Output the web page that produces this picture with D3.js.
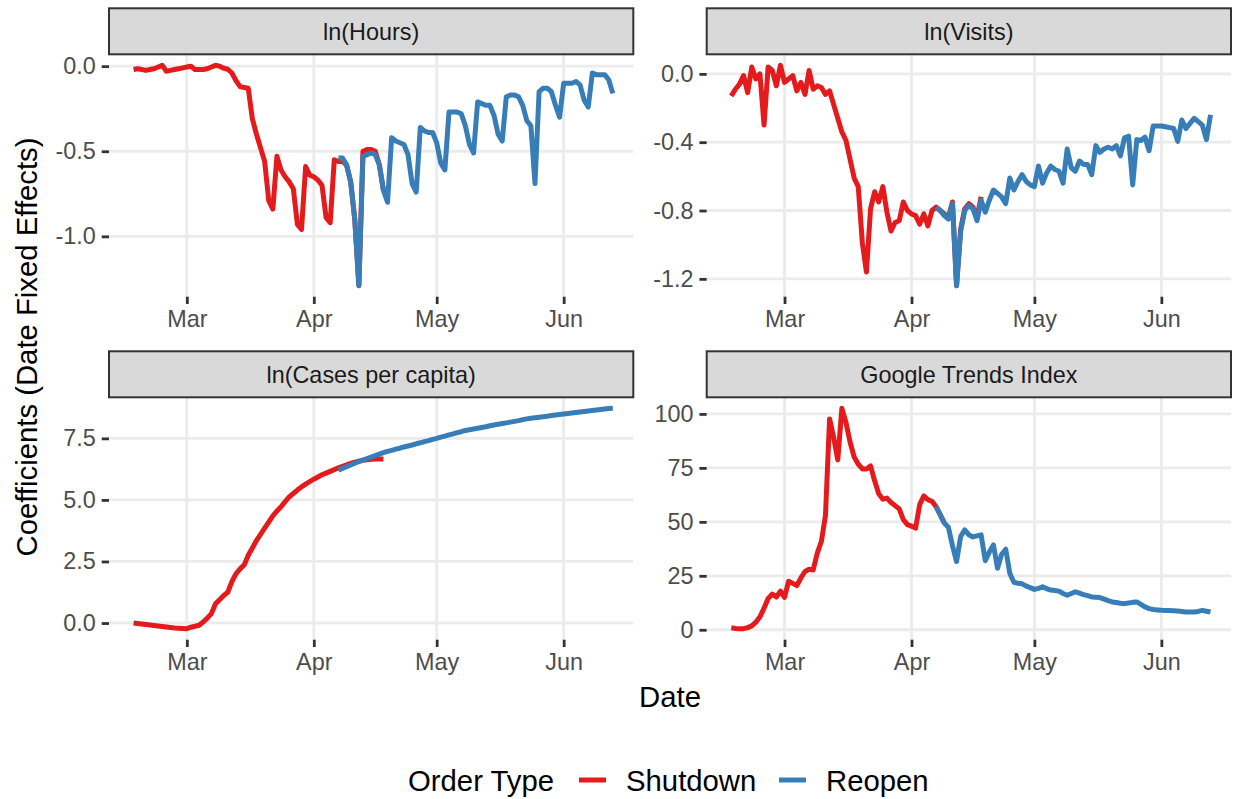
<!DOCTYPE html>
<html lang="en">

<head>
  <meta charset="UTF-8" />
  <title>Date Fixed Effects</title>
  <script src="https://cdn.jsdelivr.net/npm/d3@7"></script>
  <style>
    body {
      margin: 0;
      background: #fff;
    }

    text {
      font-family: "Liberation Sans", Arial, Helvetica, sans-serif;
    }
  </style>
</head>

<body>
  <div id="chart"></div>

  <script>
    // first day of both series (day index 0)
    var startDay = new Date(2020, 1, 17);
    var shutdownStart = 0;
    var reopenStart = 50;

    var panelTitles = ["ln(Hours)", "ln(Visits)", "ln(Cases per capita)", "Google Trends Index"];
    var orderTypes = ["Shutdown", "Reopen"];

    var monthTicks = [new Date(2020, 2, 1), new Date(2020, 3, 1), new Date(2020, 4, 1), new Date(2020, 5, 1)];
    var monthLabels = ["Mar", "Apr", "May", "Jun"];

    var hoursTicks = [0, -0.5, -1.0];
    var hoursTickLabels = ["0.0", "-0.5", "-1.0"];
    var visitsTicks = [0, -0.4, -0.8, -1.2];
    var visitsTickLabels = ["0.0", "-0.4", "-0.8", "-1.2"];
    var casesTicks = [0, 2.5, 5, 7.5];
    var casesTickLabels = ["0.0", "2.5", "5.0", "7.5"];
    var trendsTicks = [0, 25, 50, 75, 100];
    var trendsTickLabels = ["0", "25", "50", "75", "100"];

    // daily values
    var hoursShutdown = [-0.02, -0.015, -0.02, -0.025, -0.02, -0.015, -0.005, 0.005, -0.03, -0.025,
      -0.02, -0.015, -0.01, -0.005, 0.0, -0.02, -0.02, -0.02, -0.015, -0.005,
      0.005, 0.0, -0.012, -0.018, -0.04, -0.085, -0.12, -0.125, -0.13, -0.31,
      -0.40, -0.48, -0.56, -0.79, -0.84, -0.53, -0.61, -0.65, -0.68, -0.72,
      -0.93, -0.96, -0.59, -0.64, -0.65, -0.67, -0.70, -0.89, -0.92, -0.55,
      -0.56, -0.56, -0.58, -0.68, -0.90, -1.29, -0.50, -0.49, -0.49, -0.50,
      -0.58, -0.73];
    var hoursReopen = [-0.54, -0.54, -0.58, -0.68, -0.90, -1.29, -0.53, -0.52, -0.51, -0.52,
      -0.58, -0.73, -0.80, -0.42, -0.44, -0.45, -0.46, -0.52, -0.69, -0.74,
      -0.36, -0.38, -0.39, -0.39, -0.45, -0.57, -0.61, -0.27, -0.27, -0.27,
      -0.28, -0.35, -0.46, -0.51, -0.21, -0.22, -0.23, -0.23, -0.29, -0.40,
      -0.44, -0.18, -0.17, -0.17, -0.18, -0.23, -0.32, -0.35, -0.69, -0.15,
      -0.13, -0.13, -0.15, -0.23, -0.30, -0.10, -0.10, -0.10, -0.09, -0.11,
      -0.20, -0.24, -0.04, -0.05, -0.05, -0.05, -0.08, -0.16];

    var visitsShutdown = [-0.13, -0.09, -0.06, -0.01, -0.11, 0.04, -0.03, 0.0, -0.30, 0.04,
      0.02, -0.07, 0.05, -0.05, -0.03, -0.01, -0.10, -0.05, -0.12, 0.02,
      -0.09, -0.07, -0.08, -0.12, -0.10, -0.18, -0.26, -0.34, -0.39, -0.50,
      -0.61, -0.66, -0.99, -1.16, -0.79, -0.69, -0.75, -0.66, -0.81, -0.92,
      -0.87, -0.86, -0.75, -0.80, -0.82, -0.83, -0.88, -0.82, -0.89, -0.80,
      -0.78, -0.80, -0.82, -0.84, -0.75, -1.24, -0.91, -0.79, -0.76, -0.78,
      -0.84, -0.72];
    var visitsReopen = [-0.78, -0.80, -0.83, -0.85, -0.76, -1.24, -0.92, -0.80, -0.77, -0.79,
      -0.86, -0.74, -0.81, -0.74, -0.68, -0.70, -0.72, -0.76, -0.61, -0.68,
      -0.63, -0.59, -0.63, -0.65, -0.66, -0.54, -0.64, -0.58, -0.54, -0.56,
      -0.57, -0.64, -0.44, -0.55, -0.57, -0.51, -0.53, -0.53, -0.59, -0.42,
      -0.46, -0.44, -0.43, -0.44, -0.42, -0.48, -0.375, -0.365, -0.65, -0.385,
      -0.39, -0.37, -0.45, -0.305, -0.305, -0.305, -0.31, -0.315, -0.32, -0.395,
      -0.27, -0.32, -0.29, -0.26, -0.28, -0.30, -0.385, -0.24];

    var casesShutdown = [0.0, -0.02, -0.04, -0.06, -0.08, -0.10, -0.12, -0.14, -0.16, -0.18,
      -0.20, -0.21, -0.22, -0.23, -0.17, -0.13, -0.09, 0.05, 0.20, 0.38,
      0.78, 0.95, 1.12, 1.25, 1.68, 2.0, 2.2, 2.36, 2.75, 3.05,
      3.35, 3.6, 3.85, 4.1, 4.35, 4.55, 4.72, 4.93, 5.12, 5.26,
      5.40, 5.53, 5.64, 5.74, 5.84, 5.93, 6.02, 6.09, 6.16, 6.23,
      6.30, 6.36, 6.42, 6.48, 6.53, 6.57, 6.61, 6.63, 6.65, 6.66,
      6.66, 6.66];
    var casesReopen = [6.21, 6.28, 6.35, 6.42, 6.49, 6.56, 6.62, 6.68, 6.74, 6.80,
      6.86, 6.92, 6.97, 7.01, 7.06, 7.10, 7.15, 7.19, 7.23, 7.28,
      7.32, 7.37, 7.41, 7.46, 7.50, 7.55, 7.59, 7.64, 7.68, 7.73,
      7.77, 7.82, 7.85, 7.88, 7.91, 7.94, 7.97, 8.01, 8.04, 8.07,
      8.10, 8.13, 8.16, 8.19, 8.22, 8.26, 8.29, 8.32, 8.34, 8.36,
      8.38, 8.40, 8.43, 8.45, 8.47, 8.49, 8.51, 8.53, 8.55, 8.57,
      8.59, 8.61, 8.63, 8.65, 8.67, 8.69, 8.71, 8.72];

    var trendsShutdown = [0.9, 0.6, 0.5, 0.5, 1.0, 1.8, 3.5, 6.0, 10.0, 14.5,
      16.5, 15.2, 17.9, 15.0, 22.5, 21.5, 20.5, 24.0, 27.0, 28.0,
      27.7, 35.5, 41.0, 53.0, 97.7, 89.0, 78.7, 102.6, 96.0, 87.0,
      80.0, 76.7, 74.5, 74.5, 75.9, 69.0, 63.0, 60.5, 61.0, 59.0,
      57.5, 56.0, 51.0, 48.7, 48.0, 47.1, 58.0, 62.0, 60.3, 59.5,
      57.0, 53.3, 49.5];
    var trendsReopen = [57.2, 53.3, 49.5, 47.5, 39.0, 31.6, 43.2, 46.3, 44.0, 43.0,
      43.5, 44.0, 32.0, 36.0, 39.3, 28.5, 35.0, 37.3, 26.1, 22.0,
      21.5, 21.3, 20.2, 19.5, 18.7, 19.2, 19.9, 19.0, 18.4, 18.2,
      17.9, 16.8, 16.0, 16.8, 17.6, 17.0, 16.3, 15.8, 15.2, 15.1,
      14.9, 14.2, 13.5, 12.9, 12.6, 12.3, 12.1, 12.4, 12.7, 12.9,
      11.8, 10.6, 9.8, 9.4, 9.2, 9.0, 8.9, 8.9, 8.8, 8.7,
      8.5, 8.2, 8.2, 8.2, 8.5, 9.0, 8.6, 8.2];

    var w = 1236;
    var h = 799;
    var colors = ["#E41A1C", "#377EB8"];
    var smallFont = 23.4;
    var bigFont = 29.3;
    var lineW = 5;

    var panelW = 524.3;
    var panelH = 242.4;
    var stripH = 46;
    var colX = [109, 706.7];
    var rowY = [54.3, 397.3];

    var panels = [
      { shutdown: hoursShutdown, reopen: hoursReopen, ticks: hoursTicks, labels: hoursTickLabels },
      { shutdown: visitsShutdown, reopen: visitsReopen, ticks: visitsTicks, labels: visitsTickLabels },
      { shutdown: casesShutdown, reopen: casesReopen, ticks: casesTicks, labels: casesTickLabels },
      { shutdown: trendsShutdown, reopen: trendsReopen, ticks: trendsTicks, labels: trendsTickLabels }
    ];

    function dayDate(i) {
      return new Date(startDay.getFullYear(), startDay.getMonth(), startDay.getDate() + i);
    }

    function toPoints(values, start) {
      return values.map(function(v, i) {
        return { date: dayDate(start + i), value: v };
      });
    }

    var svg = d3.select("#chart")
      .append("svg")
      .attr("width", w)
      .attr("height", h);

    svg.append("rect")
      .attr("width", w)
      .attr("height", h)
      .attr("fill", "#fff");

    // date range of the data, padded 5% on each side like ggplot
    var lastDay = shutdownStart;
    panels.forEach(function(p) {
      lastDay = Math.max(lastDay, reopenStart + p.reopen.length - 1, shutdownStart + p.shutdown.length - 1);
    });
    var dayPad = (lastDay - shutdownStart) * 0.05;

    panels.forEach(function(p, k) {
      var px = colX[k % 2];
      var py = rowY[Math.floor(k / 2)];

      var g = svg.append("g")
        .attr("transform", "translate(" + px + "," + py + ")");

      var x = d3.scaleTime()
        .domain([dayDate(shutdownStart - dayPad), dayDate(lastDay + dayPad)])
        .range([0, panelW]);

      var all = p.shutdown.concat(p.reopen);
      var ext = d3.extent(all);
      var pad = (ext[1] - ext[0]) * 0.05;
      var y = d3.scaleLinear()
        .domain([ext[0] - pad, ext[1] + pad])
        .range([panelH, 0]);

      // grid
      g.selectAll(".hgrid")
        .data(p.ticks)
        .enter()
        .append("line")
        .attr("x1", 0)
        .attr("x2", panelW)
        .attr("y1", function(d) { return y(d); })
        .attr("y2", function(d) { return y(d); })
        .attr("stroke", "#EBEBEB")
        .attr("stroke-width", 2.8);

      g.selectAll(".vgrid")
        .data(monthTicks)
        .enter()
        .append("line")
        .attr("x1", function(d) { return x(d); })
        .attr("x2", function(d) { return x(d); })
        .attr("y1", 0)
        .attr("y2", panelH)
        .attr("stroke", "#EBEBEB")
        .attr("stroke-width", 2.8);

      // axes
      var yAxis = g.append("g")
        .call(d3.axisLeft(y)
          .tickValues(p.ticks)
          .tickSize(7.3)
          .tickPadding(5.9)
          .tickFormat(function(d, i) { return p.labels[i]; }));

      var xAxis = g.append("g")
        .attr("transform", "translate(0," + panelH + ")")
        .call(d3.axisBottom(x)
          .tickValues(monthTicks)
          .tickSize(7.3)
          .tickPadding(5.9)
          .tickFormat(function(d, i) { return monthLabels[i]; }));

      [yAxis, xAxis].forEach(function(a) {
        a.select(".domain").remove();
        a.attr("font-size", null).attr("font-family", null);
        a.selectAll("line")
          .attr("stroke", "#333333")
          .attr("stroke-width", 2.8);
        a.selectAll("text")
          .attr("fill", "#4D4D4D")
          .style("font-size", smallFont + "px");
      });

      // lines
      var line = d3.line()
        .x(function(d) { return x(d.date); })
        .y(function(d) { return y(d.value); });

      var series = [toPoints(p.shutdown, shutdownStart), toPoints(p.reopen, reopenStart)];
      g.selectAll(".series")
        .data(series)
        .enter()
        .append("path")
        .attr("d", line)
        .attr("fill", "none")
        .attr("stroke", function(d, i) { return colors[i]; })
        .attr("stroke-width", lineW)
        .attr("stroke-linejoin", "round");

      // strip
      g.append("rect")
        .attr("x", 0)
        .attr("y", -stripH)
        .attr("width", panelW)
        .attr("height", stripH)
        .attr("fill", "#D9D9D9")
        .attr("stroke", "#333333")
        .attr("stroke-width", 2);

      g.append("text")
        .attr("x", panelW / 2)
        .attr("y", -stripH / 2)
        .attr("dy", "0.36em")
        .attr("text-anchor", "middle")
        .attr("fill", "#1A1A1A")
        .style("font-size", smallFont + "px")
        .text(panelTitles[k]);
    });

    // axis titles
    svg.append("text")
      .attr("x", (colX[0] + colX[1] + panelW) / 2)
      .attr("y", 707)
      .attr("text-anchor", "middle")
      .style("font-size", bigFont + "px")
      .text("Date");

    svg.append("text")
      .attr("transform", "translate(37," + ((rowY[0] + rowY[1] + panelH) / 2) + ") rotate(-90)")
      .attr("text-anchor", "middle")
      .style("font-size", bigFont + "px")
      .text("Coefficients (Date Fixed Effects)");

    // legend
    var legend = svg.append("g");
    legend.append("text")
      .attr("x", 408)
      .attr("y", 791)
      .style("font-size", bigFont + "px")
      .text("Order Type");

    var keyX = [579, 779];
    legend.selectAll(".key")
      .data(orderTypes)
      .enter()
      .append("line")
      .attr("x1", function(d, i) { return keyX[i]; })
      .attr("x2", function(d, i) { return keyX[i] + 27; })
      .attr("y1", 780)
      .attr("y2", 780)
      .attr("stroke", function(d, i) { return colors[i]; })
      .attr("stroke-width", lineW);

    legend.selectAll(".label")
      .data(orderTypes)
      .enter()
      .append("text")
      .attr("x", function(d, i) { return keyX[i] + 47; })
      .attr("y", 791)
      .style("font-size", bigFont + "px")
      .text(function(d) { return d; });
  </script>

</body>

</html>
